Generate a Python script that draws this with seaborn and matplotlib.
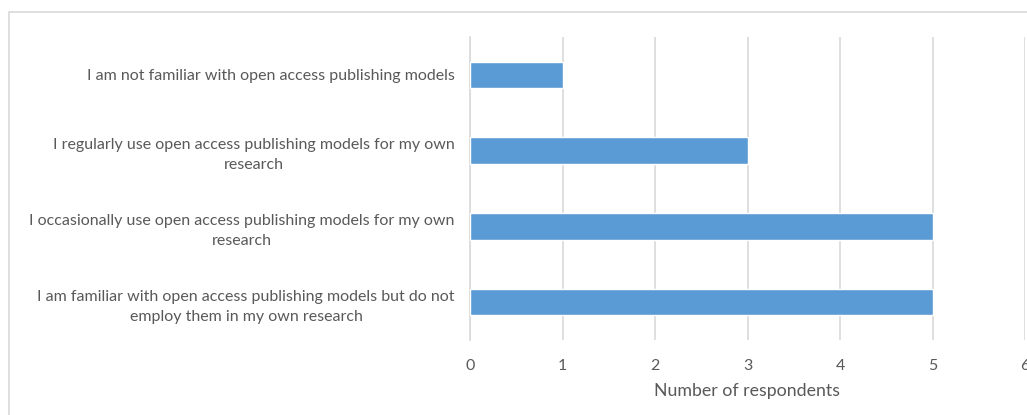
import matplotlib
matplotlib.use("Agg")
import matplotlib.pyplot as plt
import seaborn as sns
import pandas as pd
from matplotlib.patches import Rectangle

categories = [
    "I am not familiar with open access publishing models",
    "I regularly use open access publishing models for my own\nresearch",
    "I occasionally use open access publishing models for my own\nresearch",
    "I am familiar with open access publishing models but do not\nemploy them in my own research",
]
respondents = [1, 3, 5, 5]
x_ticks = [0, 1, 2, 3, 4, 5, 6]

sns.set_theme(style="white")
plt.rcParams["font.family"] = ["Lato", "DejaVu Sans"]

text_color = "#595959"
grid_color = "#D9D9D9"
bar_color = "#5B9BD5"

df = pd.DataFrame({"category": categories, "respondents": respondents})

fig = plt.figure(figsize=(10.27, 4.15), dpi=100)
ax = fig.add_axes([470 / 1027, 1 - 340 / 415, (1025 - 470) / 1027, (340 - 37) / 415])

sns.barplot(data=df, x="respondents", y="category", color=bar_color,
            width=0.35, saturation=1, ax=ax, zorder=3)

ax.set_xlim(0, 6)
ax.set_xticks(x_ticks)
ax.xaxis.grid(True, color=grid_color, linewidth=1.2, zorder=0)
ax.yaxis.grid(False)
for side in ["top", "right", "bottom"]:
    ax.spines[side].set_visible(False)
ax.spines["left"].set_color(grid_color)
ax.spines["left"].set_linewidth(1.2)

ax.tick_params(axis="x", length=0, pad=14, labelsize=11.5, labelcolor=text_color)
ax.tick_params(axis="y", length=0, pad=11, labelsize=11.5, labelcolor=text_color)
for lbl in ax.get_yticklabels():
    lbl.set_multialignment("center")
    lbl.set_linespacing(1.55)

ax.set_ylabel("")
ax.set_xlabel("Number of respondents", fontsize=12.8, color=text_color, labelpad=7)

# outer chart frame
fig.patches.append(Rectangle((9 / 1027, -0.1), 1.2, 1 - 12 / 415 + 0.1,
                             transform=fig.transFigure, fill=False,
                             edgecolor="#D9D9D9", linewidth=1.2))

fig.savefig("out.png", dpi=100, facecolor="white")
